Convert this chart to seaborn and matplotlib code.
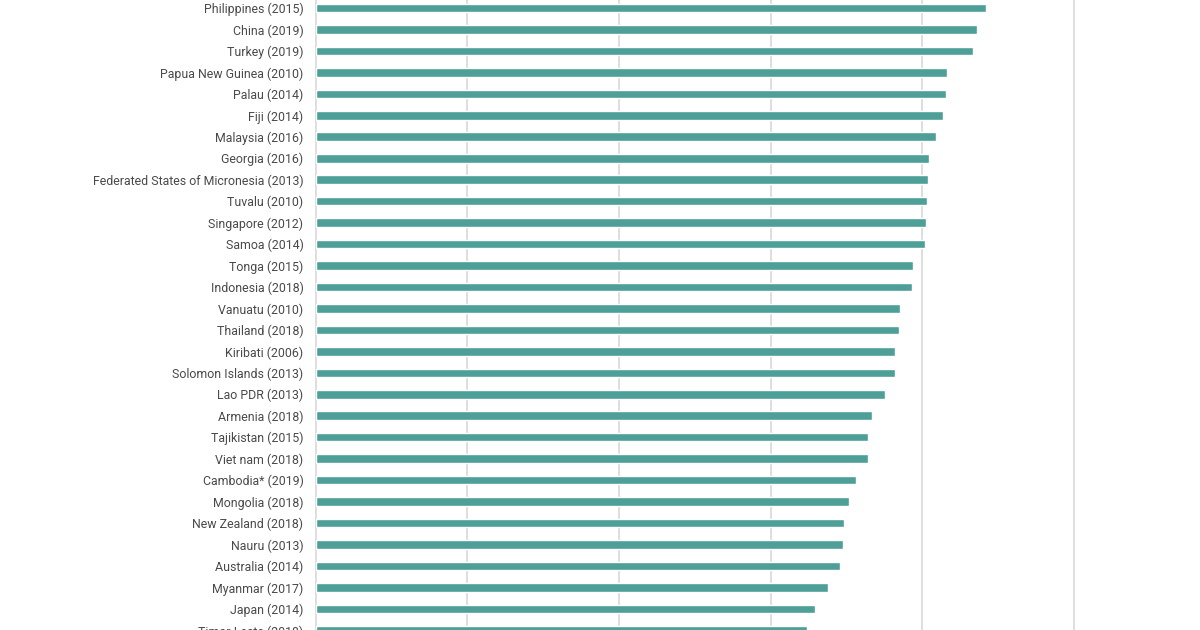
import matplotlib.pyplot as plt
import seaborn as sns
import pandas as pd

countries = [
    "Philippines (2015)", "China (2019)", "Turkey (2019)", "Papua New Guinea (2010)",
    "Palau (2014)", "Fiji (2014)", "Malaysia (2016)", "Georgia (2016)",
    "Federated States of Micronesia (2013)", "Tuvalu (2010)", "Singapore (2012)",
    "Samoa (2014)", "Tonga (2015)", "Indonesia (2018)", "Vanuatu (2010)",
    "Thailand (2018)", "Kiribati (2006)", "Solomon Islands (2013)", "Lao PDR (2013)",
    "Armenia (2018)", "Tajikistan (2015)", "Viet nam (2018)", "Cambodia* (2019)",
    "Mongolia (2018)", "New Zealand (2018)", "Nauru (2013)", "Australia (2014)",
    "Myanmar (2017)", "Japan (2014)", "Timor-Leste (2018)",
]
values = [
    88.4, 87.3, 86.7, 83.3, 83.2, 82.8, 81.8, 80.9, 80.8, 80.7,
    80.5, 80.4, 78.8, 78.7, 77.1, 77.0, 76.4, 76.4, 75.1, 73.4,
    72.9, 72.9, 71.3, 70.4, 69.7, 69.6, 69.2, 67.6, 65.9, 64.8,
]
xticks = [0, 20, 40, 60, 80, 100]

df = pd.DataFrame({"country": countries, "value": values})

sns.set_theme(style="white")
plt.rcParams["font.family"] = ["Roboto", "DejaVu Sans"]

W, H = 1200, 630
fig = plt.figure(figsize=(W / 100, H / 100), dpi=100)
# axes runs a little past the figure edges, like the cropped original
row_px = 21.46
top_px = 8 - 0.5 * row_px
bot_px = 8 + (len(countries) - 0.5) * row_px
left_px = 316
unit_px = 151.5 / 20
xmax = 115
ax = fig.add_axes([left_px / W, 1 - bot_px / H, xmax * unit_px / W, (bot_px - top_px) / H])

sns.barplot(data=df, x="value", y="country", color="#4d9f97", saturation=1,
            width=0.4, ax=ax, zorder=3)

ax.set_xlim(0, xmax)
ax.set_ylim(len(countries) - 0.5, -0.5)
ax.set_xticks(xticks)
ax.grid(axis="x", color="#dedede", linewidth=1.4, zorder=0)
ax.set_xlabel("")
ax.set_ylabel("")
ax.tick_params(axis="y", length=0, pad=9, labelsize=8.9, labelcolor="#4a4a4a")
ax.tick_params(axis="x", length=0, labelbottom=False)
for s in ["top", "right", "bottom"]:
    ax.spines[s].set_visible(False)
ax.spines["left"].set_color("#dedede")
ax.spines["left"].set_linewidth(1.4)

fig.savefig("out.png", dpi=100)
